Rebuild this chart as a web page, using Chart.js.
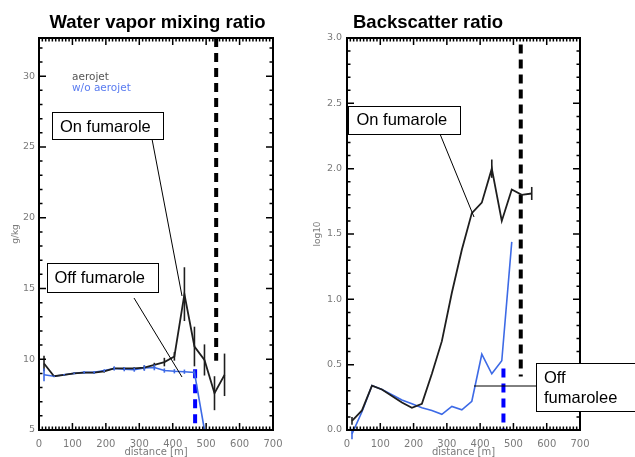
<!DOCTYPE html>
<html lang="en">
<head>
    <meta charset="UTF-8">
    <title>Water vapor mixing ratio / Backscatter ratio</title>
    <style>
        body {
            margin: 0;
            padding: 0;
            background: #fff;
            width: 635px;
            height: 457px;
            overflow: hidden;
            position: relative;
        }
        .panel {
            position: absolute;
            top: 0;
        }
    </style>
</head>
<body>
    <div class="panel" style="left:0"><canvas id="wv" width="317" height="457"></canvas></div>
    <div class="panel" style="left:300px"><canvas id="bs" width="335" height="457"></canvas></div>

    <script src="https://cdn.jsdelivr.net/npm/chart.js"></script>
    <script>
        // distance along track [m]
        const distance = [15, 45, 75, 105, 135, 165, 195, 225, 255, 285, 315, 345, 375, 405, 435, 465, 495, 525, 555];
        const distanceNoAerojet = distance.slice(0, 17);

        // water vapor mixing ratio [g/kg]
        const wvAerojet = [9.7, 8.8, 8.9, 9.0, 9.05, 9.05, 9.15, 9.35, 9.35, 9.35, 9.4, 9.6, 9.8, 10.2, 14.6, 10.9, 9.95, 7.6, 8.9];
        const wvAerojetErr = [0.55, 0.05, 0.05, 0.05, 0.05, 0.05, 0.08, 0.1, 0.1, 0.1, 0.15, 0.15, 0.3, 0.3, 1.9, 1.4, 1.1, 1.2, 1.5];
        const wvNoAerojet = [8.9, 8.8, 8.9, 9.0, 9.07, 9.07, 9.2, 9.35, 9.3, 9.27, 9.38, 9.42, 9.2, 9.15, 9.12, 9.07, 5.0];
        const wvNoAerojetErr = [0.45, 0.05, 0.05, 0.05, 0.1, 0.1, 0.1, 0.15, 0.15, 0.15, 0.2, 0.2, 0.15, 0.15, 0.15, 0.15, 0];

        // backscatter ratio [log10]
        const bsAerojet = [0.07, 0.15, 0.34, 0.31, 0.26, 0.21, 0.17, 0.2, 0.43, 0.68, 1.05, 1.38, 1.66, 1.74, 2.0, 1.6, 1.84, 1.8, 1.81];
        const bsAerojetErr = [0.03, 0, 0, 0, 0, 0, 0, 0, 0, 0, 0, 0, 0, 0, 0.07, 0, 0, 0, 0.05];
        const bsNoAerojet = [-0.03, 0.14, 0.34, 0.31, 0.27, 0.23, 0.2, 0.17, 0.15, 0.12, 0.18, 0.155, 0.22, 0.58, 0.43, 0.53, 1.44];
        const bsNoAerojetErr = [0.04, 0, 0, 0, 0, 0, 0, 0, 0, 0, 0, 0, 0, 0, 0, 0, 0];

        // vertical dashed markers [x, y] end points
        const wvMarkAerojet = [[530, 32.7], [530, 9.9]];
        const wvMarkNoAerojet = [[467, 9.3], [467, 5]];
        const bsMarkAerojet = [[522, 2.95], [522, 0.41]];
        const bsMarkNoAerojet = [[470, 0.47], [470, 0]];

        // axis ticks
        const xTicks = Array.from({length: 71}, (_, i) => i * 10);
        const wvTicks = Array.from({length: 28}, (_, i) => i + 5);
        const bsTicks = Array.from({length: 31}, (_, i) => i / 10);

        const BLACK = '#1e1e1e';
        const BLUE = '#3d6ae6';
        const TICK_GREY = '#7a7a7a';

        const pts = (xs, ys) => xs.map((x, i) => ({x: x, y: ys[i]}));
        const seg = (arr) => arr.map(p => ({x: p[0], y: p[1]}));

        function lineSet(data, color, width, errors) {
            return {
                data: data,
                borderColor: color,
                borderWidth: width,
                pointRadius: 0,
                tension: 0,
                fill: false,
                clip: false,
                errors: errors
            };
        }

        function dashSet(data, color) {
            return {
                data: data,
                borderColor: color,
                borderWidth: 4,
                borderDash: [9, 6],
                pointRadius: 0,
                fill: false,
                clip: false
            };
        }

        // frame, inward ticks, error bars, titles, legend, callouts
        // (config kept in the closure, functions in plugin options get called by Chart.js)
        function makeDecor(o) {
            return {
                id: 'decor',
                afterDatasetsDraw(chart) {
                    const ctx = chart.ctx;
                    const a = chart.chartArea;
                    const xs = chart.scales.x;
                    const ys = chart.scales.y;
                    ctx.save();

                    // error bars
                    chart.data.datasets.forEach(ds => {
                        if (!ds.errors) return;
                        ctx.strokeStyle = ds.borderColor;
                        ctx.lineWidth = 1.6;
                        ds.data.forEach((p, i) => {
                            const e = ds.errors[i];
                            if (!e) return;
                            const px = xs.getPixelForValue(p.x);
                            ctx.beginPath();
                            ctx.moveTo(px, ys.getPixelForValue(p.y - e));
                            ctx.lineTo(px, ys.getPixelForValue(p.y + e));
                            ctx.stroke();
                        });
                    });

                    // box
                    ctx.strokeStyle = '#000';
                    ctx.lineWidth = 2;
                    ctx.strokeRect(a.left, a.top, a.right - a.left, a.bottom - a.top);

                    // inward ticks on all four sides
                    ctx.lineWidth = 1.5;
                    ctx.beginPath();
                    xTicks.forEach(v => {
                        const px = xs.getPixelForValue(v);
                        const len = v % 100 === 0 ? 7 : 3.5;
                        ctx.moveTo(px, a.bottom); ctx.lineTo(px, a.bottom - len);
                        ctx.moveTo(px, a.top); ctx.lineTo(px, a.top + len);
                    });
                    o.yTicks.forEach(v => {
                        const py = ys.getPixelForValue(v);
                        const len = o.isMajor(v) ? 7 : 3.5;
                        ctx.moveTo(a.left, py); ctx.lineTo(a.left + len, py);
                        ctx.moveTo(a.right, py); ctx.lineTo(a.right - len, py);
                    });
                    ctx.stroke();

                    // title
                    ctx.fillStyle = '#000';
                    ctx.font = 'bold 18.5px "Liberation Sans", Arial, sans-serif';
                    ctx.textAlign = o.title.align;
                    ctx.textBaseline = 'alphabetic';
                    ctx.fillText(o.title.text, o.title.x, 28);

                    // legend
                    ctx.textAlign = 'left';
                    ctx.font = '10.5px "DejaVu Sans", sans-serif';
                    (o.legend || []).forEach(l => {
                        ctx.fillStyle = l.color;
                        ctx.fillText(l.text, l.x, l.y);
                    });

                    // callouts
                    ctx.lineWidth = 1;
                    ctx.strokeStyle = '#000';
                    ctx.font = '16.5px "Liberation Sans", Arial, sans-serif';
                    o.callouts.forEach(c => {
                        ctx.beginPath();
                        ctx.moveTo(c.from[0], c.from[1]);
                        ctx.lineTo(c.to[0], c.to[1]);
                        ctx.stroke();
                        ctx.fillStyle = '#fff';
                        ctx.fillRect(c.box[0], c.box[1], c.box[2], c.box[3]);
                        ctx.strokeRect(c.box[0] + 0.5, c.box[1] + 0.5, c.box[2], c.box[3]);
                        ctx.fillStyle = '#000';
                        c.lines.forEach((t, i) => ctx.fillText(t, c.tx, c.ty + i * 20));
                    });
                    ctx.restore();
                }
            };
        }

        function axisFont(size) {
            return {family: '"DejaVu Sans", sans-serif', size: size};
        }

        function makeOptions(cfg) {
            return {
                responsive: false,
                animation: false,
                layout: {padding: {top: 38, right: cfg.padRight, left: 0, bottom: 0}},
                plugins: {
                    legend: {display: false},
                    tooltip: {enabled: false}
                },
                scales: {
                    x: {
                        type: 'linear',
                        min: 0,
                        max: 700,
                        afterFit: s => { s.height = 27; },
                        afterBuildTicks: s => { s.ticks = xTicks.map(v => ({value: v})); },
                        ticks: {
                            autoSkip: false,
                            maxRotation: 0,
                            padding: 8,
                            color: TICK_GREY,
                            font: axisFont(10),
                            callback: v => (v % 100 === 0 ? String(v) : '')
                        },
                        grid: {display: false, drawTicks: false},
                        border: {display: false},
                        title: {
                            display: true,
                            text: 'distance [m]',
                            color: TICK_GREY,
                            font: axisFont(10),
                            padding: {top: 0, bottom: -1}
                        }
                    },
                    y: {
                        type: 'linear',
                        min: cfg.yMin,
                        max: cfg.yMax,
                        afterFit: s => { s.width = cfg.yWidth; },
                        afterBuildTicks: s => { s.ticks = cfg.yTicks.map(v => ({value: v})); },
                        ticks: {
                            autoSkip: false,
                            padding: cfg.yPad,
                            color: TICK_GREY,
                            font: axisFont(9.5),
                            callback: cfg.yLabel
                        },
                        grid: {display: false, drawTicks: false},
                        border: {display: false},
                        title: {
                            display: true,
                            text: cfg.yTitle,
                            color: TICK_GREY,
                            font: axisFont(9),
                            padding: {top: cfg.yTitlePad, bottom: 0}
                        }
                    }
                }
            };
        }

        new Chart(document.getElementById('wv').getContext('2d'), {
            type: 'line',
            data: {
                datasets: [
                    lineSet(pts(distance, wvAerojet), BLACK, 1.8, wvAerojetErr),
                    lineSet(pts(distanceNoAerojet, wvNoAerojet), BLUE, 1.6, wvNoAerojetErr),
                    dashSet(seg(wvMarkAerojet), '#000'),
                    dashSet(seg(wvMarkNoAerojet), '#0000ff')
                ]
            },
            options: makeOptions({
                padRight: 44,
                yMin: 5,
                yMax: 32.7,
                yWidth: 39,
                yPad: 4,
                yTicks: wvTicks,
                yLabel: v => (v % 5 === 0 ? String(v) : ''),
                yTitle: 'g/kg',
                yTitlePad: 10
            }),
            plugins: [makeDecor({
                yTicks: wvTicks,
                isMajor: v => v % 5 === 0,
                title: {text: 'Water vapor mixing ratio', x: 157.5, align: 'center'},
                legend: [
                    {text: 'aerojet', x: 72, y: 80, color: '#555'},
                    {text: 'w/o aerojet', x: 72, y: 91, color: '#5a7cf0'}
                ],
                callouts: [
                    {box: [52, 112, 111, 27], tx: 60, ty: 132, lines: ['On fumarole'], from: [152, 139], to: [182, 296]},
                    {box: [47, 263, 111, 29], tx: 54.5, ty: 283, lines: ['Off fumarole'], from: [134, 298], to: [182, 377]}
                ]
            })]
        });

        new Chart(document.getElementById('bs').getContext('2d'), {
            type: 'line',
            data: {
                datasets: [
                    lineSet(pts(distance, bsAerojet), BLACK, 1.8, bsAerojetErr),
                    lineSet(pts(distanceNoAerojet, bsNoAerojet), BLUE, 1.6, bsNoAerojetErr),
                    dashSet(seg(bsMarkAerojet), '#000'),
                    dashSet(seg(bsMarkNoAerojet), '#0000ff')
                ]
            },
            options: makeOptions({
                padRight: 55,
                yMin: 0,
                yMax: 3,
                yWidth: 47,
                yPad: 5,
                yTicks: bsTicks,
                yLabel: v => (Math.round(v * 10) % 5 === 0 ? v.toFixed(1) : ''),
                yTitle: 'log10',
                yTitlePad: 12
            }),
            plugins: [makeDecor({
                yTicks: bsTicks,
                isMajor: v => Math.round(v * 10) % 5 === 0,
                title: {text: 'Backscatter ratio', x: 53, align: 'left'},
                callouts: [
                    {box: [48, 106, 112, 28], tx: 56.5, ty: 125, lines: ['On fumarole'], from: [140, 134], to: [174, 217]},
                    {box: [236, 363, 110, 48], tx: 244, ty: 383, lines: ['Off', 'fumarolee'], from: [174, 386], to: [236, 386]}
                ]
            })]
        });
    </script>
</body>
</html>
